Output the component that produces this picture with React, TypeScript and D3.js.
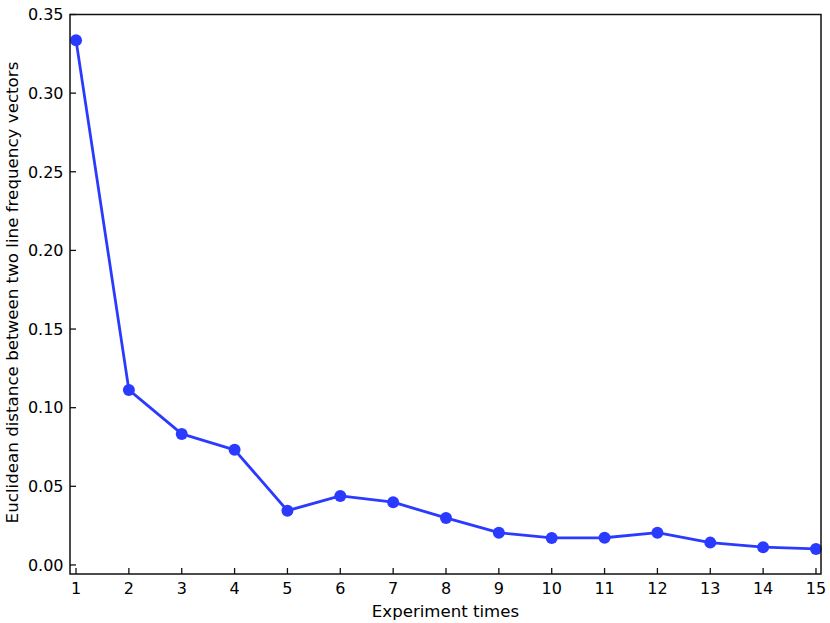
import React from "react";
import * as d3 from "d3";

const experiments = [1, 2, 3, 4, 5, 6, 7, 8, 9, 10, 11, 12, 13, 14, 15];
const distances = [0.3337, 0.1113, 0.0833, 0.0732, 0.0345, 0.0439, 0.0399, 0.0299, 0.0205, 0.0172, 0.0173, 0.0205, 0.0142, 0.0113, 0.0102];
const yTicks = [0, 0.05, 0.1, 0.15, 0.2, 0.25, 0.3, 0.35];
const xTicks = experiments;

export default function App() {
  const W = 830, H = 623;
  const L = 70, R = 821, T = 14.5, B = 574;
  const x = d3.scaleLinear().domain([0.886, 15.095]).range([L, R]);
  const y = d3.scaleLinear().domain([-0.00575, 0.35]).range([B, T]);
  const line = d3.line<number>().x((_, i) => x(experiments[i])).y((d) => y(d));
  const color = "#2a3bff";
  const font = "DejaVu Sans, sans-serif";
  return (
    <svg width={W} height={H} style={{ position: "absolute", left: 0, top: 0, background: "#fff" }}>
      <rect x={0} y={0} width={W} height={H} fill="#fff" />
      <path d={line(distances) || ""} fill="none" stroke={color} strokeWidth={2.8} strokeLinejoin="round" />
      {distances.map((d, i) => (
        <circle key={i} cx={x(experiments[i])} cy={y(d)} r={6} fill={color} />
      ))}
      <rect x={L} y={T} width={R - L} height={B - T} fill="none" stroke="#111" strokeWidth={1.5} />
      {yTicks.map((t) => (
        <g key={t}>
          <line x1={L} x2={L + 6} y1={y(t)} y2={y(t)} stroke="#111" strokeWidth={1.3} />
          <text x={L - 6.5} y={y(t)} dy="0.36em" textAnchor="end" fontFamily={font} fontSize={16} fill="#000">
            {t.toFixed(2)}
          </text>
        </g>
      ))}
      {xTicks.map((t) => (
        <g key={t}>
          <line x1={x(t)} x2={x(t)} y1={B} y2={B - 6} stroke="#111" strokeWidth={1.3} />
          <text x={x(t)} y={B + 19.5} textAnchor="middle" fontFamily={font} fontSize={16} fill="#000">
            {t}
          </text>
        </g>
      ))}
      <text x={(L + R) / 2} y={616.5} textAnchor="middle" fontFamily={font} fontSize={16.6} fill="#000">
        Experiment times
      </text>
      <text transform={`translate(18, 292.5) rotate(-90)`} textAnchor="middle" fontFamily={font} fontSize={16.7} fill="#000">
        Euclidean distance between two line frequency vectors
      </text>
    </svg>
  );
}
